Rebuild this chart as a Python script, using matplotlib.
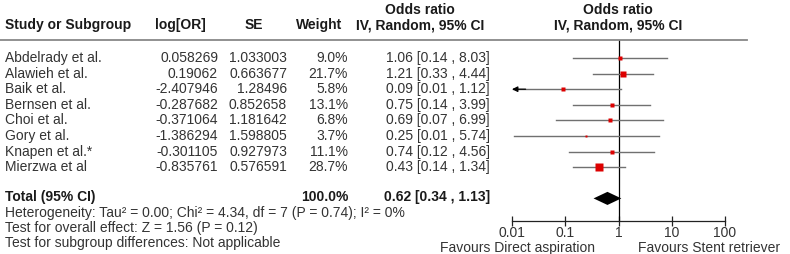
import numpy as np
import matplotlib
matplotlib.use("Agg")
from matplotlib import pyplot as plt

plt.rcParams['font.family'] = ['Liberation Sans', 'DejaVu Sans']

# data
studies = ["Abdelrady et al.", "Alawieh et al.", "Baik et al.", "Bernsen et al.",
           "Choi et al.", "Gory et al.", "Knapen et al.*", "Mierzwa et al"]
log_or = [0.058269, 0.19062, -2.407946, -0.287682,
          -0.371064, -1.386294, -0.301105, -0.835761]
se = [1.033003, 0.663677, 1.28496, 0.852658,
      1.181642, 1.598805, 0.927973, 0.576591]
weight = [9.0, 21.7, 5.8, 13.1, 6.8, 3.7, 11.1, 28.7]
odds = [1.06, 1.21, 0.09, 0.75, 0.69, 0.25, 0.74, 0.43]
ci_low = [0.14, 0.33, 0.01, 0.14, 0.07, 0.01, 0.12, 0.14]
ci_high = [8.03, 4.44, 1.12, 3.99, 6.99, 5.74, 4.56, 1.34]
total_or, total_low, total_high = 0.62, 0.34, 1.13
ticks = [0.01, 0.1, 1, 10, 100]

W, H = 790, 254
fig = plt.figure(figsize=(W / 100, H / 100), dpi=100)

txt_col = "#333333"
hdr_col = "#1a1a1a"
fs = 10


def fx(x):
    return x / W


def fy(y):
    return 1 - y / H


def row_px(i):
    return 58 + 15.6 * i


def put(x, y, s, ha="left", bold=False, color=txt_col):
    fig.text(fx(x), fy(y), s, ha=ha, va="center", fontsize=fs,
             fontweight="bold" if bold else "normal", color=color)


# headers
put(420, 10, "Odds ratio", ha="center", bold=True, color=hdr_col)
put(618, 10, "Odds ratio", ha="center", bold=True, color=hdr_col)
put(5, 25, "Study or Subgroup", bold=True, color=hdr_col)
put(180, 25, "log[OR]", ha="center", bold=True, color=hdr_col)
put(254, 25, "SE", ha="center", bold=True, color=hdr_col)
put(319, 25, "Weight", ha="center", bold=True, color=hdr_col)
put(420, 25, "IV, Random, 95% CI", ha="center", bold=True, color=hdr_col)
put(618, 25, "IV, Random, 95% CI", ha="center", bold=True, color=hdr_col)

fig.add_artist(plt.Line2D([fx(0), fx(747)], [fy(40), fy(40)],
                          color="#888888", lw=1.3))

# study rows
for i in range(len(studies)):
    y = row_px(i)
    put(5, y, studies[i])
    put(218, y, str(log_or[i]), ha="right")
    put(287, y, str(se[i]), ha="right")
    put(348, y, "%.1f%%" % weight[i], ha="right")
    put(490, y, "%.2f [%.2f , %.2f]" % (odds[i], ci_low[i], ci_high[i]), ha="right")

n = len(studies)
ytot = n + 0.9
put(5, row_px(ytot), "Total (95% CI)", bold=True, color=hdr_col)
put(348, row_px(ytot), "100.0%", ha="right", bold=True, color=hdr_col)
put(490, row_px(ytot), "%.2f [%.2f , %.2f]" % (total_or, total_low, total_high),
    ha="right", bold=True, color=hdr_col)
put(5, 213, "Heterogeneity: Tau\u00b2 = 0.00; Chi\u00b2 = 4.34, df = 7 (P = 0.74); I\u00b2 = 0%")
put(5, 228, "Test for overall effect: Z = 1.56 (P = 0.12)")
put(5, 243, "Test for subgroup differences: Not applicable")

# forest panel
x0, x1 = 512, 725
ytop, ybot = 40, 221
ax = fig.add_axes([fx(x0), fy(ybot), (x1 - x0) / W, (ybot - ytop) / H])
ax.set_xscale("log")
ax.set_xlim(0.01, 100)
ax.set_ylim((ybot - 58) / 15.6, (ytop - 58) / 15.6)
ax.patch.set_visible(False)
for s in ["top", "left", "right"]:
    ax.spines[s].set_visible(False)
ax.spines["bottom"].set_color("#222222")
ax.spines["bottom"].set_linewidth(0.9)
ax.set_yticks([])
ax.set_xticks(ticks)
ax.set_xticklabels(["0.01", "0.1", "1", "10", "100"])
ax.minorticks_off()
ax.tick_params(axis="x", direction="inout", length=7, width=0.9, color="#222222",
               labelsize=fs, labelcolor=txt_col, pad=0)

ax.axvline(1, color="black", lw=0.9)

xmin = 0.01
for i in range(n):
    lo = np.exp(log_or[i] - 1.96 * se[i])
    hi = np.exp(log_or[i] + 1.96 * se[i])
    if lo < xmin:
        ax.plot([xmin * 1.05, hi], [i, i], color="#707070", lw=1.0)
        ax.annotate("", xy=(xmin, i), xytext=(xmin * 1.8, i),
                    arrowprops=dict(arrowstyle="-|>", color="black", lw=0.9,
                                    mutation_scale=8, shrinkA=0, shrinkB=0))
    else:
        ax.plot([lo, hi], [i, i], color="#707070", lw=1.0)
    ax.plot(odds[i], i, marker="s", color="#dd0000", mec="none",
            markersize=0.95 * np.sqrt(weight[i]))

# pooled diamond
dh = 0.42
yd = ytot + 0.1
ax.fill([total_low, total_or, total_high, total_or],
        [yd, yd - dh, yd, yd + dh], color="black", lw=0)

put(518, 248, "Favours Direct aspiration", ha="center")
put(709, 248, "Favours Stent retriever", ha="center")

fig.savefig("out.png", dpi=100)
